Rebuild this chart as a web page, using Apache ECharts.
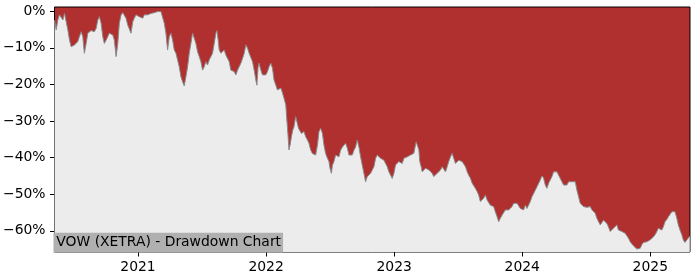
<!DOCTYPE html>
<html>
<head>
<meta charset="utf-8">
<script src="https://cdn.jsdelivr.net/npm/echarts@6/dist/echarts.min.js"></script>
<style>
html,body{margin:0;padding:0;background:#fff;}
#chart{width:700px;height:280px;}
</style>
</head>
<body>
<div id="chart"></div>
<script>
// Dates as decimal years
const dateYears = [
2020.348,2020.361,2020.374,2020.387,2020.400,2020.413,2020.426,2020.439,2020.452,2020.465,
2020.478,2020.491,2020.504,2020.517,2020.530,2020.542,2020.556,2020.569,2020.581,2020.595,
2020.608,2020.620,2020.634,2020.647,2020.659,2020.673,2020.686,2020.698,2020.712,2020.725,
2020.737,2020.751,2020.764,2020.776,2020.790,2020.803,2020.815,2020.829,2020.842,2020.854,
2020.868,2020.881,2020.893,2020.906,2020.920,2020.932,2020.945,2020.959,2020.971,2020.984,
2020.998,2021.010,2021.023,2021.037,2021.049,2021.062,2021.076,2021.088,2021.101,2021.115,
2021.127,2021.140,2021.154,2021.166,2021.179,2021.193,2021.205,2021.218,2021.231,2021.244,
2021.257,2021.270,2021.283,2021.296,2021.309,2021.322,2021.335,2021.348,2021.361,2021.374,
2021.387,2021.400,2021.413,2021.426,2021.439,2021.452,2021.465,2021.478,2021.491,2021.504,
2021.517,2021.530,2021.543,2021.556,2021.569,2021.582,2021.595,2021.608,2021.616,2021.626,
2021.634,2021.647,2021.660,2021.673,2021.686,2021.699,2021.712,2021.725,2021.738,2021.751,
2021.764,2021.777,2021.790,2021.803,2021.816,2021.829,2021.842,2021.855,2021.868,2021.881,
2021.894,2021.907,2021.920,2021.928,2021.938,2021.945,2021.959,2021.972,2021.984,2021.998,
2022.011,2022.023,2022.037,2022.050,2022.062,2022.076,2022.089,2022.101,2022.115,2022.128,
2022.140,2022.154,2022.161,2022.171,2022.179,2022.187,2022.198,2022.208,2022.218,2022.231,
2022.245,2022.253,2022.265,2022.276,2022.286,2022.296,2022.309,2022.323,2022.335,2022.348,
2022.362,2022.374,2022.387,2022.401,2022.413,2022.426,2022.440,2022.452,2022.465,2022.479,
2022.491,2022.499,2022.510,2022.518,2022.530,2022.543,2022.557,2022.569,2022.582,2022.596,
2022.608,2022.621,2022.635,2022.647,2022.660,2022.673,2022.686,2022.699,2022.712,2022.725,
2022.738,2022.751,2022.764,2022.777,2022.790,2022.803,2022.816,2022.829,2022.842,2022.855,
2022.868,2022.881,2022.894,2022.907,2022.920,2022.933,2022.946,2022.959,2022.972,2022.985,
2022.998,2023.011,2023.024,2023.037,2023.050,2023.063,2023.076,2023.089,2023.102,2023.115,
2023.128,2023.141,2023.154,2023.161,2023.172,2023.182,2023.193,2023.200,2023.211,2023.219,
2023.232,2023.245,2023.258,2023.271,2023.284,2023.297,2023.309,2023.323,2023.336,2023.348,
2023.362,2023.375,2023.387,2023.401,2023.414,2023.426,2023.440,2023.453,2023.465,2023.479,
2023.492,2023.504,2023.518,2023.531,2023.543,2023.557,2023.570,2023.582,2023.596,2023.609,
2023.621,2023.634,2023.648,2023.660,2023.673,2023.687,2023.699,2023.712,2023.726,2023.738,
2023.751,2023.765,2023.777,2023.790,2023.804,2023.816,2023.829,2023.843,2023.855,2023.868,
2023.894,2023.921,2023.933,2023.946,2023.960,2023.972,2023.985,2023.998,2024.011,2024.024,
2024.037,2024.050,2024.063,2024.076,2024.089,2024.102,2024.115,2024.128,2024.141,2024.154,
2024.167,2024.180,2024.193,2024.206,2024.219,2024.232,2024.245,2024.258,2024.271,2024.284,
2024.297,2024.310,2024.323,2024.336,2024.349,2024.362,2024.375,2024.388,2024.401,2024.414,
2024.427,2024.440,2024.453,2024.466,2024.479,2024.492,2024.505,2024.518,2024.531,2024.544,
2024.557,2024.570,2024.583,2024.596,2024.609,2024.622,2024.635,2024.648,2024.661,2024.673,
2024.687,2024.700,2024.712,2024.726,2024.739,2024.751,2024.765,2024.778,2024.790,2024.804,
2024.817,2024.829,2024.843,2024.856,2024.868,2024.882,2024.895,2024.907,2024.921,2024.934,
2024.946,2024.960,2024.973,2024.985,2024.998,2025.012,2025.024,2025.037,2025.051,2025.063,
2025.076,2025.090,2025.102,2025.115,2025.129,2025.141,2025.154,2025.168,2025.180,2025.193,
2025.207,2025.219,2025.232,2025.246,2025.258,2025.271,2025.285,2025.297,2025.308
];
// Drawdown in percent
const drawdown = [
-2.4,-5.1,-2.4,-1.0,-0.6,-2.4,-0.6,-1.0,-5.1,-7.9,
-9.7,-9.7,-9.2,-8.8,-8.3,-7.0,-5.6,-7.0,-11.5,-8.8,
-6.0,-5.6,-5.3,-5.1,-5.6,-4.7,-2.4,-1.5,-3.3,-7.0,
-8.8,-7.9,-7.4,-6.0,-6.0,-6.5,-7.9,-12.4,-8.8,-3.3,
-1.0,-0.4,-0.6,-1.9,-3.8,-4.2,-6.0,-2.9,-1.9,-1.0,
-0.8,-1.5,-1.0,-1.9,-1.0,-1.5,-1.0,-1.3,-0.6,-0.8,
-0.4,-0.2,-0.1,0,-0.1,-0.6,-3.3,-6.0,-10.6,-7.0,
-6.0,-7.9,-10.6,-11.5,-13.3,-15.2,-17.9,-19.3,-20.4,-17.9,
-15.2,-11.5,-8.8,-6.0,-7.4,-8.8,-11.1,-12.4,-13.8,-16.1,
-15.2,-13.8,-14.7,-13.3,-12.9,-11.5,-8.8,-6.0,-5.3,-7.9,
-10.6,-11.5,-11.1,-10.6,-12.0,-12.4,-13.8,-16.1,-15.6,-16.5,
-17.4,-16.1,-15.6,-14.2,-12.9,-11.5,-9.2,-10.1,-11.5,-12.0,
-13.8,-16.1,-18.8,-20.2,-15.2,-14.2,-16.1,-17.4,-17.9,-17.4,
-16.5,-15.2,-14.2,-15.6,-18.8,-20.2,-21.5,-21.5,-21.0,-22.3,
-23.8,-25.6,-29.2,-33.8,-37.9,-36.6,-34.3,-32.5,-31.6,-28.8,
-28.8,-32.0,-32.5,-33.4,-33.8,-32.9,-34.3,-35.2,-36.1,-37.9,
-38.9,-38.4,-39.3,-36.6,-32.9,-32.0,-33.4,-36.6,-38.9,-40.2,
-41.1,-42.9,-44.3,-42.1,-41.1,-39.3,-38.9,-39.8,-38.0,-37.1,
-36.6,-36.1,-37.5,-39.3,-39.8,-39.3,-38.0,-37.1,-35.2,-37.1,
-39.8,-42.1,-44.3,-46.6,-45.2,-44.8,-44.3,-43.9,-42.5,-40.2,
-39.3,-39.8,-40.2,-40.7,-40.7,-41.6,-42.5,-43.9,-44.8,-45.7,
-44.3,-42.0,-41.5,-41.1,-41.6,-41.6,-40.2,-39.8,-39.8,-39.3,
-39.3,-39.3,-38.8,-37.5,-35.7,-36.1,-37.9,-41.1,-42.5,-43.9,
-43.4,-42.9,-43.4,-43.4,-43.9,-44.3,-45.2,-44.8,-44.3,-43.9,
-43.4,-42.5,-42.9,-43.9,-42.5,-41.1,-39.8,-38.8,-40.2,-41.6,
-41.1,-40.7,-41.1,-41.1,-41.6,-42.5,-43.9,-44.8,-45.7,-47.0,
-47.5,-48.4,-49.3,-50.2,-52.0,-52.0,-51.1,-50.2,-51.6,-52.0,
-53.0,-53.0,-53.4,-54.8,-56.2,-57.5,-56.6,-55.7,-55.2,-54.3,
-54.3,-53.4,-52.5,-52.0,-52.5,-53.0,-53.9,-53.4,-54.3,-53.0,
-53.9,-54.3,-52.0,-50.7,-49.8,-48.9,-48.0,-47.5,-46.1,-45.0,
-45.6,-47.5,-48.4,-47.0,-46.1,-45.2,-43.9,-43.4,-43.9,-44.8,
-45.7,-46.6,-47.5,-47.9,-47.5,-46.6,-46.1,-46.6,-46.1,-46.6,
-48.9,-50.7,-52.5,-53.0,-53.4,-53.4,-53.6,-53.4,-53.4,-54.3,
-54.8,-55.2,-56.6,-57.5,-58.4,-58.0,-57.1,-57.5,-58.0,-58.9,
-60.2,-59.8,-59.3,-58.9,-58.4,-59.8,-59.8,-60.2,-60.7,-60.7,
-61.1,-62.0,-63.0,-63.4,-64.1,-64.5,-65.0,-65.4,-64.8,-63.8,
-63.2,-63.0,-63.0,-62.7,-62.5,-62.0,-61.7,-61.1,-60.2,-59.3,
-58.9,-59.8,-58.9,-57.5,-56.9,-56.2,-55.7,-54.8,-54.3,-54.8,
-56.6,-58.4,-59.8,-61.1,-62.5,-63.2,-62.5,-62.0,-61.5
];
const yearTicks = [2021, 2022, 2023, 2024, 2025];
const pctTicks = [0, -10, -20, -30, -40, -50, -60];
const chartTitle = 'VOW (XETRA) - Drawdown Chart';

const FONT = 'DejaVu Sans';
const chart = echarts.init(document.getElementById('chart'), null, {renderer: 'canvas'});
const seriesData = dateYears.map((d, i) => [d, drawdown[i]]);

chart.setOption({
  animation: false,
  backgroundColor: '#ffffff',
  title: {
    text: chartTitle,
    left: 53.5,
    top: 232.8,
    padding: [2, 2, 2, 2.8],
    backgroundColor: '#b0b0b0',
    textStyle: {fontFamily: FONT, fontSize: 13.9, fontWeight: 'normal', color: '#000', lineHeight: 15.6}
  },
  grid: {
    left: 53, right: 10, top: 7, bottom: 28,
    show: true,
    backgroundColor: '#b03030',
    borderColor: '#000',
    borderWidth: 1
  },
  xAxis: {
    type: 'value',
    position: 'bottom',
    min: 2020.348,
    max: 2025.31,
    splitLine: {show: false},
    axisLine: {show: false, onZero: false},
    axisTick: {show: true, inside: false, length: 4.5, lineStyle: {color: '#000', width: 1}, customValues: yearTicks},
    axisLabel: {
      customValues: yearTicks,
      margin: 8,
      fontFamily: FONT, fontSize: 13.9, color: '#000',
      formatter: v => String(Math.round(v))
    }
  },
  yAxis: {
    type: 'value',
    position: 'left',
    min: -65.8,
    max: 1.15,
    splitLine: {show: false},
    axisLine: {show: false, onZero: false},
    axisTick: {show: true, inside: false, length: 4.5, lineStyle: {color: '#000', width: 1}, customValues: pctTicks},
    axisLabel: {
      customValues: pctTicks,
      margin: 9,
      fontFamily: FONT, fontSize: 13.9, color: '#000',
      formatter: v => (v < 0 ? '\u2212' : '') + Math.abs(Math.round(v)) + '%'
    }
  },
  series: [{
    type: 'line',
    data: seriesData,
    showSymbol: false,
    symbol: 'none',
    smooth: false,
    lineStyle: {color: '#8a8a8a', width: 1},
    areaStyle: {color: '#ececec', opacity: 1, origin: 'start'},
    z: 2
  }]
});
</script>
</body>
</html>
